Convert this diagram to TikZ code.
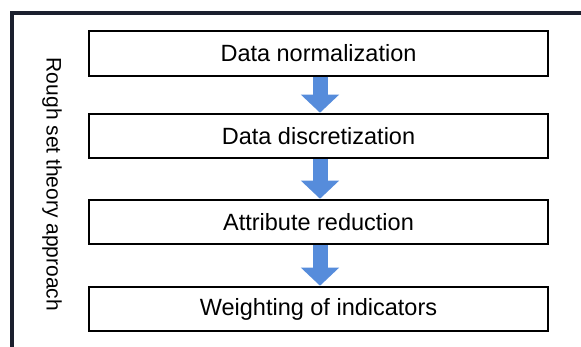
\documentclass[tikz,border=0pt]{standalone}
\usepackage{fontspec}
\setmainfont{Liberation Sans}
\usetikzlibrary{arrows.meta}
\definecolor{framecol}{RGB}{27,32,46}
\definecolor{flowblue}{RGB}{86,140,219}
\tikzset{
  stage/.style={draw=black, line width=2pt, minimum width=459pt, minimum height=44.5pt,
    inner sep=0pt, font=\fontsize{23.5}{28}\selectfont},
  flow/.style={draw=flowblue, -{Triangle[width=37pt,length=18pt]}, line width=15pt},
  sidelabel/.style={rotate=-90, inner sep=0pt, font=\fontsize{21}{25}\selectfont}
}
\begin{document}
\begin{tikzpicture}[x=1pt, y=-1pt]
  \useasboundingbox[fill=white] (0,0) rectangle (581,347);
  % open frame: top and left sides only
  \draw[framecol, line width=4pt] (581,13) -- (11.5,13) -- (11.5,347);
  \node[sidelabel] (side) at (52,184.5) {Rough set theory approach};
  % processing steps
  \node[stage] (s1) at (318.5,53.5) {Data normalization};
  \node[stage] (s2) at (318.5,136) {Data discretization};
  \node[stage] (s3) at (318.5,222) {Attribute reduction};
  \node[stage] (s4) at (318.5,309) {Weighting of indicators};
  % block arrows between steps
  \draw[flow] ([xshift=1.5pt]s1.south) -- ([xshift=1.5pt]s2.north);
  \draw[flow] ([xshift=1.5pt]s2.south) -- ([xshift=1.5pt]s3.north);
  \draw[flow] ([xshift=1.5pt]s3.south) -- ([xshift=1.5pt]s4.north);
\end{tikzpicture}
\end{document}
